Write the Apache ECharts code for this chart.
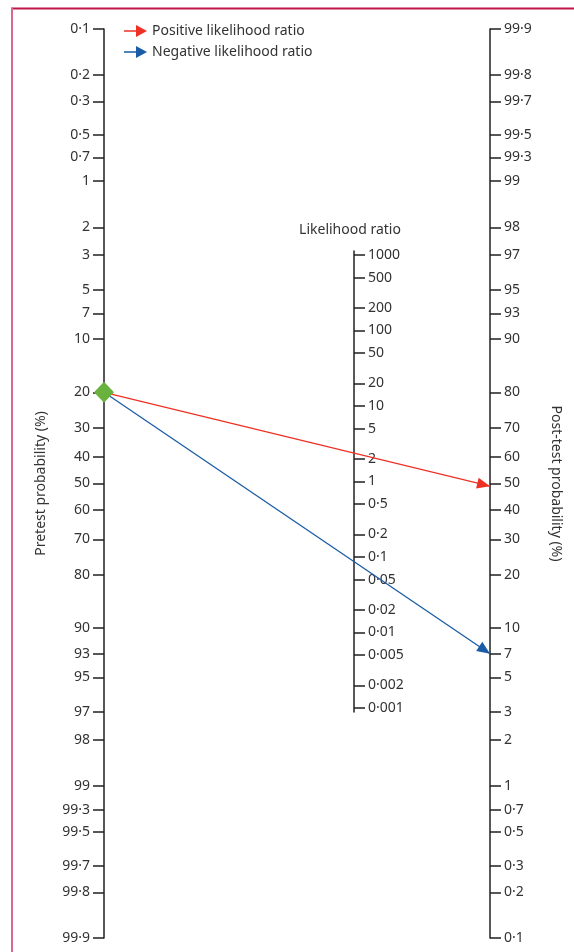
<!DOCTYPE html>
<html>
<head>
<meta charset="utf-8">
<script src="https://cdn.jsdelivr.net/npm/echarts@6/dist/echarts.min.js"></script>
<style>
html,body{margin:0;padding:0;background:#fff;}
#chart{width:574px;height:952px;}
</style>
</head>
<body>
<div id="chart"></div>
<script>
// ---- data ----
const preTicks = [0.1,0.2,0.3,0.5,0.7,1,2,3,5,7,10,20,30,40,50,60,70,80,90,93,95,97,98,99,99.3,99.5,99.7,99.8,99.9];
const postTicks = [99.9,99.8,99.7,99.5,99.3,99,98,97,95,93,90,80,70,60,50,40,30,20,10,7,5,3,2,1,0.7,0.5,0.3,0.2,0.1];
const lrTicks = [1000,500,200,100,50,20,10,5,2,1,0.5,0.2,0.1,0.05,0.02,0.01,0.005,0.002,0.001];
const pretestProbability = 20;
const postPositive = 49;
const postNegative = 7;
const seriesNames = ['Positive likelihood ratio','Negative likelihood ratio'];

// ---- scale helpers ----
const logit = p => Math.log(p / (100 - p));
const L = logit(99.9);
const fmt = v => String(v).replace('.', '\u00B7');
function nearestLabel(list, tf) {
  return function (value) {
    let best = list[0], bd = Infinity;
    list.forEach(t => { const d = Math.abs(tf(t) - value); if (d < bd) { bd = d; best = t; } });
    return fmt(best);
  };
}
const FONT = '"Noto Sans", sans-serif';
const TXT = '#333333';
const AX = '#231f20';

const chart = echarts.init(document.getElementById('chart'), null, {renderer:'canvas'});

function probAxis(pos, inverse, ticks, name, nameRotate, nameGap) {
  const vals = ticks.map(logit);
  return {
    type: 'value', gridIndex: 0, position: pos, inverse: inverse,
    min: -L, max: L,
    name: name, nameLocation: 'middle', nameGap: nameGap, nameRotate: nameRotate,
    nameTextStyle: {fontFamily: FONT, fontSize: 14, color: TXT},
    axisLine: {show: true, onZero: false, lineStyle: {color: AX, width: 1.5}},
    axisTick: {show: true, length: 11, customValues: vals, lineStyle: {color: AX, width: 1.5}},
    axisLabel: {show: true, margin: 14, customValues: vals, fontFamily: FONT, fontSize: 14, color: TXT,
      formatter: nearestLabel(ticks, logit)},
    splitLine: {show: false}
  };
}

const lrVals = lrTicks.map(v => Math.log10(v));

const option = {
  animation: false,
  backgroundColor: '#fff',
  graphic: [
    {type: 'line', shape: {x1: 11, y1: 8.5, x2: 574, y2: 8.5}, style: {stroke: '#c0174a', lineWidth: 2}, silent: true},
    {type: 'line', shape: {x1: 12, y1: 8, x2: 12, y2: 952}, style: {stroke: '#d56a8b', lineWidth: 2}, silent: true}
  ],
  legend: {
    orient: 'vertical', left: 124, top: 24, itemWidth: 23, itemHeight: 12, itemGap: 7, padding: 0,
    textStyle: {fontFamily: FONT, fontSize: 14, color: TXT},
    data: seriesNames.map(n => ({name: n, icon: 'path://M0,5.3L12,5.3L12,0L23,6L12,12L12,6.7L0,6.7Z'}))
  },
  grid: [
    {left: 104, right: 84, top: 29, bottom: 14},
    {left: 300, width: 54, top: 251, bottom: 240}
  ],
  xAxis: [
    {type: 'value', gridIndex: 0, min: 0, max: 1, show: false},
    {type: 'value', gridIndex: 1, min: 0, max: 1, show: false}
  ],
  yAxis: [
    probAxis('left', true, preTicks, 'Pretest probability (%)', 90, 56),
    probAxis('right', false, postTicks, 'Post-test probability (%)', -90, 59),
    {
      type: 'value', gridIndex: 1, position: 'right',
      min: -3.053, max: 3.053,
      name: 'Likelihood ratio', nameLocation: 'end', nameGap: 14,
      nameTextStyle: {fontFamily: FONT, fontSize: 14, color: TXT, align: 'center', padding: [0, 8, 0, 0]},
      axisLine: {show: true, onZero: false, lineStyle: {color: AX, width: 1.5}},
      axisTick: {show: true, length: 11, customValues: lrVals, lineStyle: {color: AX, width: 1.5}},
      axisLabel: {show: true, margin: 14, customValues: lrVals, fontFamily: FONT, fontSize: 14, color: TXT,
        formatter: nearestLabel(lrTicks, v => Math.log10(v))},
      splitLine: {show: false}
    }
  ],
  series: [
    {
      name: seriesNames[0], type: 'line', xAxisIndex: 0, yAxisIndex: 1, data: [], color: '#ee3124',
      markLine: {
        silent: true, symbol: ['none', 'triangle'], symbolSize: [11, 13], symbolOffset: [0, [0, '50%']],
        label: {show: false}, lineStyle: {color: '#ee3124', width: 1.3, type: 'solid'},
        // left axis is inverted: pretest logit p sits where the right axis shows -p
        data: [[{coord: [0, -logit(pretestProbability)]}, {coord: [1, logit(postPositive)]}]]
      }
    },
    {
      name: seriesNames[1], type: 'line', xAxisIndex: 0, yAxisIndex: 1, data: [], color: '#1a5ca6',
      markLine: {
        silent: true, symbol: ['none', 'triangle'], symbolSize: [11, 13], symbolOffset: [0, [0, '50%']],
        label: {show: false}, lineStyle: {color: '#1a5ca6', width: 1.3, type: 'solid'},
        data: [[{coord: [0, -logit(pretestProbability)]}, {coord: [1, logit(postNegative)]}]]
      }
    },
    {
      type: 'scatter', xAxisIndex: 0, yAxisIndex: 0, symbol: 'diamond', symbolSize: [20, 21], z: 10, zlevel: 1,
      itemStyle: {color: '#6ab23e', opacity: 1}, silent: true,
      data: [[0, logit(pretestProbability)]]
    }
  ]
};
chart.setOption(option);
</script>
</body>
</html>
